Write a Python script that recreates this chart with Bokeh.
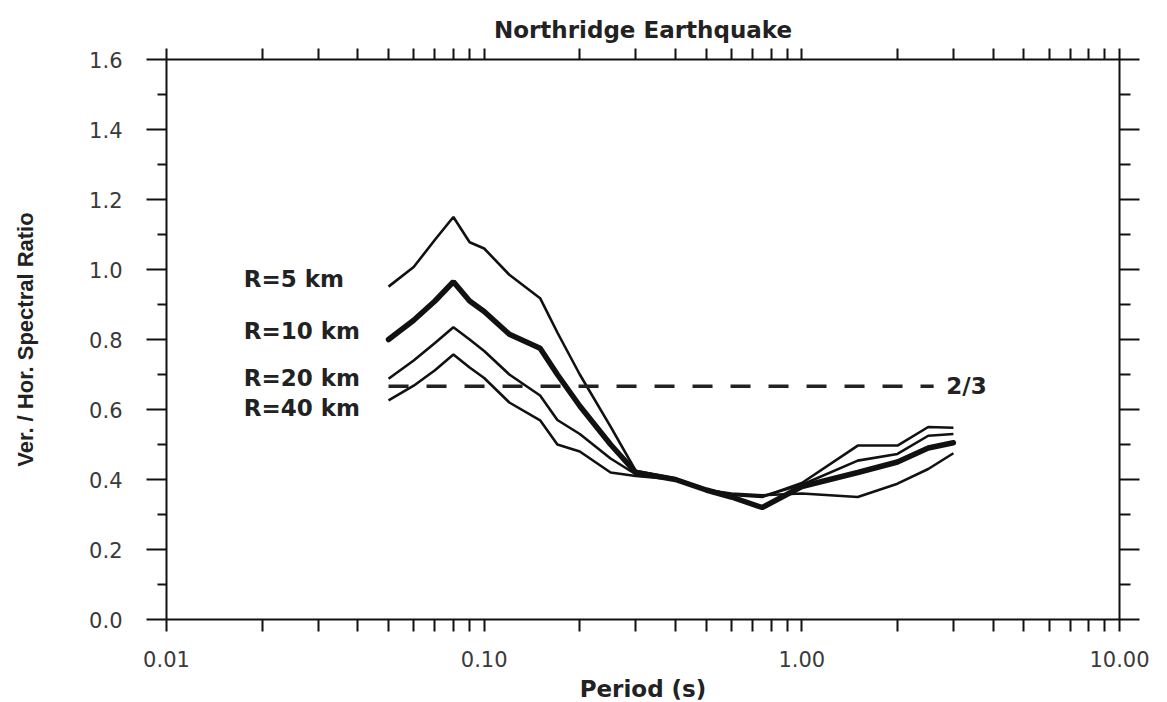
from bokeh.plotting import figure
from bokeh.models import LogAxis, LinearAxis, FixedTicker, PrintfTickFormatter, Label, Range1d
from bokeh.embed import file_html
from bokeh.resources import INLINE

# ---------------- data ----------------
periods = [0.05, 0.06, 0.07, 0.08, 0.09, 0.10, 0.12, 0.15, 0.17, 0.20, 0.25,
           0.30, 0.40, 0.50, 0.60, 0.75, 1.0, 1.5, 2.0, 2.5, 3.0]
r5_km = [0.951, 1.007, 1.085, 1.150, 1.078, 1.060, 0.985, 0.918, 0.820, 0.700, 0.551,
         0.425, 0.403, 0.372, 0.356, 0.350, 0.390, 0.497, 0.497, 0.550, 0.548]
r10_km = [0.800, 0.855, 0.910, 0.965, 0.910, 0.880, 0.815, 0.775, 0.700, 0.610, 0.500,
          0.420, 0.400, 0.370, 0.350, 0.320, 0.380, 0.420, 0.450, 0.490, 0.505]
r20_km = [0.688, 0.740, 0.790, 0.835, 0.800, 0.767, 0.700, 0.640, 0.570, 0.530, 0.460,
          0.415, 0.402, 0.371, 0.358, 0.352, 0.385, 0.454, 0.473, 0.525, 0.530]
r40_km = [0.626, 0.668, 0.712, 0.757, 0.720, 0.690, 0.620, 0.569, 0.500, 0.480, 0.420,
          0.410, 0.400, 0.370, 0.360, 0.355, 0.360, 0.350, 0.388, 0.430, 0.475]
series_names = ["R=5 km", "R=10 km", "R=20 km", "R=40 km"]
ratio_value = 2.0 / 3.0
ratio_periods = [0.05, 2.6]
ratio_label = "2/3"

x_major = [0.01, 0.1, 1.0, 10.0]
x_minor = [m * d for d in [0.01, 0.1, 1.0] for m in range(2, 10)]
y_major = [0.0, 0.2, 0.4, 0.6, 0.8, 1.0, 1.2, 1.4, 1.6]
y_minor = [0.1, 0.3, 0.5, 0.7, 0.9, 1.1, 1.3, 1.5]

# ---------------- figure ----------------
p = figure(x_axis_type="log", x_range=Range1d(0.01, 10), y_range=Range1d(0, 1.6),
           frame_width=953, frame_height=560,
           min_border_left=166, min_border_right=40, min_border_top=59, min_border_bottom=75,
           x_axis_location=None, y_axis_location=None,
           output_backend="svg", toolbar_location=None)
p.outline_line_color = None
p.background_fill_color = "white"
p.border_fill_color = "white"
p.xgrid.grid_line_color = None
p.ygrid.grid_line_color = None

p.title.text = "Northridge Earthquake"
p.title.align = "center"
p.title.text_font = "DejaVu Sans"
p.title.text_font_style = "bold"
p.title.text_font_size = "23px"
p.title.text_color = "#222222"
p.title.standoff = 12

TICK_FONT = "DejaVu Sans"


def style_axis(ax, major_out, minor_out, show_labels):
    ax.axis_line_width = 2
    ax.axis_line_color = "#111111"
    ax.major_tick_line_width = 2
    ax.minor_tick_line_width = 2
    ax.major_tick_line_color = "#111111"
    ax.minor_tick_line_color = "#111111"
    ax.major_tick_in = 0
    ax.minor_tick_in = 0
    ax.major_tick_out = major_out
    ax.minor_tick_out = minor_out
    ax.major_label_text_font = TICK_FONT
    ax.major_label_text_color = "#3a3a3a"
    if show_labels:
        ax.major_label_text_font_size = "21px"
    else:
        ax.major_label_text_font_size = "1px"
        ax.major_label_text_alpha = 0
        ax.major_label_standoff = 0


bottom = LogAxis(ticker=FixedTicker(ticks=x_major, minor_ticks=x_minor),
                 formatter=PrintfTickFormatter(format="%.2f"))
style_axis(bottom, 12, 12, True)
bottom.major_label_standoff = 19
bottom.axis_label = "Period (s)"
bottom.axis_label_text_font = "DejaVu Sans"
bottom.axis_label_text_font_style = "bold"
bottom.axis_label_text_font_size = "23px"
bottom.axis_label_text_color = "#222222"
bottom.axis_label_standoff = 6
p.add_layout(bottom, "below")

top = LogAxis(ticker=FixedTicker(ticks=x_major, minor_ticks=x_minor),
              formatter=PrintfTickFormatter(format="%.2f"))
style_axis(top, 11, 11, False)
top.major_label_standoff = 8
p.add_layout(top, "above")

left = LinearAxis(ticker=FixedTicker(ticks=y_major, minor_ticks=y_minor),
                  formatter=PrintfTickFormatter(format="%.1f"))
style_axis(left, 20, 9, True)
left.major_label_standoff = 24
left.axis_label = "Ver. / Hor. Spectral Ratio"
left.axis_label_text_font = "Liberation Sans"
left.axis_label_text_font_style = "bold"
left.axis_label_text_font_size = "22px"
left.axis_label_text_color = "#222222"
left.axis_label_standoff = 48
p.add_layout(left, "left")

right = LinearAxis(ticker=FixedTicker(ticks=y_major, minor_ticks=y_minor),
                   formatter=PrintfTickFormatter(format="%.1f"))
style_axis(right, 20, 11, False)
p.add_layout(right, "right")

# ---------------- curves ----------------
line_col = "#111111"
p.line(periods, r5_km, line_width=2.6, line_color=line_col)
p.line(periods, r20_km, line_width=2.6, line_color=line_col)
p.line(periods, r40_km, line_width=2.6, line_color=line_col)
p.line(periods, r10_km, line_width=5.5, line_color=line_col, line_cap="round")

p.line(ratio_periods, [ratio_value, ratio_value], line_width=3.5,
       line_color="#222222", line_dash="20 18")

# ---------------- labels ----------------
label_x = 0.0175
label_y = [0.974, 0.823, 0.689, 0.603]
for name, yy in zip(series_names, label_y):
    p.add_layout(Label(x=label_x, y=yy, text=name, text_font="DejaVu Sans",
                       text_font_style="bold", text_font_size="23px",
                       text_color="#222222", text_baseline="middle", text_align="left"))

p.add_layout(Label(x=2.85, y=ratio_value, text=ratio_label, text_font="DejaVu Sans",
                   text_font_style="bold", text_font_size="23px",
                   text_color="#222222", text_baseline="middle", text_align="left"))

open("out.html", "w").write(file_html(p, INLINE))
